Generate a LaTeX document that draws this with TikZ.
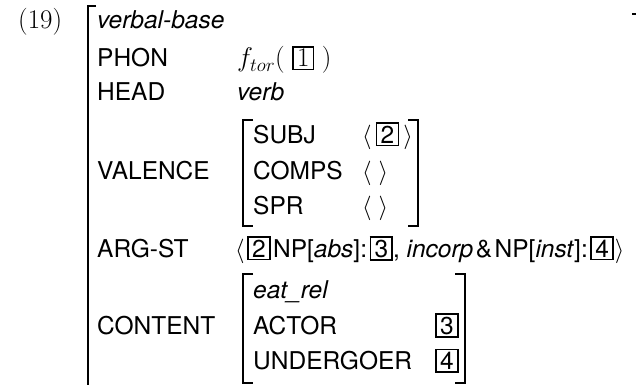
\documentclass[tikz,border=0pt]{standalone}
\usepackage{fix-cm}
\usepackage{fontspec}
\newfontfamily\hv{TeX Gyre Heros}
\newcommand{\numbox}[1]{{\setlength{\fboxsep}{1.8pt}\setlength{\fboxrule}{1.6pt}\fbox{\kern1.5pt#1\kern1.5pt}}}
\tikzset{
  avmtxt/.style={anchor=base west, inner sep=0pt, font=\fontsize{24.5}{29}\selectfont\hv},
  rmtxt/.style={anchor=base west, inner sep=0pt, font=\fontsize{27}{32}\selectfont},
  brack/.style={draw=black, line width=1.3pt, line join=miter}
}
\begin{document}
\begin{tikzpicture}[x=1pt,y=-1pt]
\useasboundingbox (0,0) rectangle (636,385);
% example number
\node[rmtxt] (exno) at (18,29) {(19)};
% outer bracket
\draw[brack] (96,6) -- (88,6) -- (88,385);
\draw[brack] (632,14) -- (636,14);
% outer rows
\node[avmtxt] (type) at (97,29) {\itshape verbal-base};
\node[avmtxt] (phon) at (97,67) {PHON};
\node[rmtxt] (phonv) at (237,67) {$f_{tor}(\;\numbox{$1$}\;)$};
\node[avmtxt] (head) at (97,101) {HEAD};
\node[avmtxt] (headv) at (237,101) {\itshape verb};
\node[avmtxt] (val) at (97,179) {VALENCE};
\node[avmtxt] (argst) at (97,257) {ARG-ST};
\node[avmtxt] (cont) at (97,334) {CONTENT};
% valence matrix
\draw[brack] (253,120) -- (243,120) -- (243,226) -- (253,226);
\draw[brack] (408,120) -- (418,120) -- (418,226) -- (408,226);
\node[avmtxt] (subj) at (253,143) {SUBJ};
\node[avmtxt] (subjv) at (362,143) {$\langle$\,\numbox{2}\,$\rangle$};
\node[avmtxt] (comps) at (253,179) {COMPS};
\node[avmtxt] (compsv) at (362,179) {$\langle\ \rangle$};
\node[avmtxt] (spr) at (253,214) {SPR};
\node[avmtxt] (sprv) at (362,214) {$\langle\ \rangle$};
% arg-st
\node[avmtxt] (argstv) at (235,257) {$\langle$\kern2.5pt\numbox{2}\kern2.5pt NP[\textit{abs}]:\kern2.5pt\numbox{3}, \textit{incorp}\kern2.5pt\&\kern2.5pt NP[\textit{inst}]:\kern2.5pt\numbox{4}\kern1pt$\rangle$};
% content matrix
\draw[brack] (253,274) -- (243,274) -- (243,383) -- (253,383);
\draw[brack] (455,274) -- (465,274) -- (465,383) -- (455,383);
\node[avmtxt] (rel) at (253,298) {\itshape eat\_rel};
\node[avmtxt] (actor) at (253,334) {ACTOR};
\node[avmtxt] (actorv) at (435,334) {\numbox{3}};
\node[avmtxt] (under) at (253,369.5) {UNDERGOER};
\node[avmtxt] (underv) at (435,369.5) {\numbox{4}};
\end{tikzpicture}
\end{document}
